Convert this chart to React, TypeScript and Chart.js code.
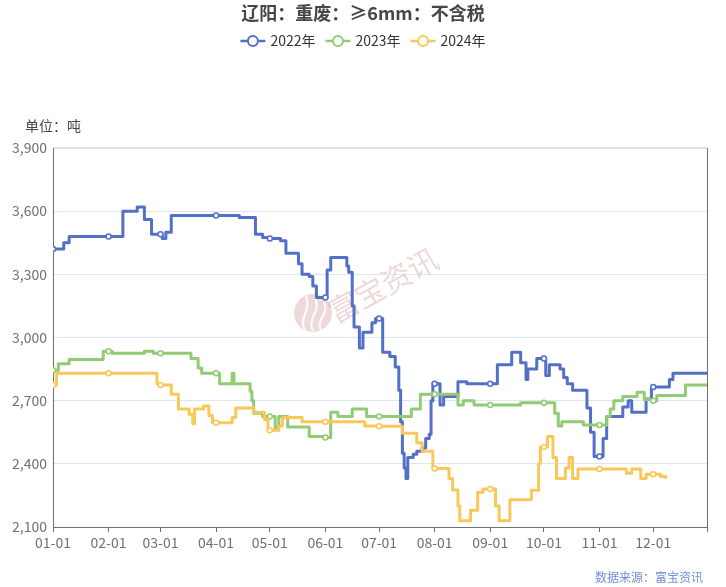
import React, { useEffect, useRef } from 'react';
import { Chart, registerables } from 'chart.js';

Chart.register(...registerables);

const TITLE = '辽阳：重废：≥6mm：不含税';
const UNIT = '单位：吨';
const SOURCE = '数据来源：富宝资讯';
const WATERMARK = '富宝资讯';

const seriesNames = ['2022年', '2023年', '2024年'];
const seriesColors = ['#5470c6', '#91cc75', '#fac858'];

const monthStartDays = [0, 31, 60, 91, 121, 152, 182, 213, 244, 274, 305, 335];
const monthLabels = ['01-01', '02-01', '03-01', '04-01', '05-01', '06-01', '07-01', '08-01', '09-01', '10-01', '11-01', '12-01'];
const yearEndDay = 365;
const yTicks = [2100, 2400, 2700, 3000, 3300, 3600, 3900];

// change points: the value becomes `value` on `day` (day 0 = 01-01)
const days2022 = [0, 6, 9, 31, 39, 47, 51, 55, 60, 61, 63, 66, 91, 104, 113, 117, 121, 127, 130, 137, 139, 143, 145, 147, 152, 153, 155, 164, 165, 167, 168, 171, 173, 178, 180, 182, 184, 188, 191, 193, 194, 195, 196, 197, 198, 201, 203, 206, 208, 210, 211, 212, 213, 216, 218, 226, 231, 244, 248, 256, 261, 264, 265, 270, 274, 275, 277, 283, 285, 287, 290, 298, 300, 302, 305, 307, 309, 318, 321, 323, 331, 334, 335, 344, 346, 365];
const values2022 = [3420, 3450, 3480, 3480, 3600, 3620, 3560, 3490, 3490, 3470, 3500, 3580, 3580, 3570, 3490, 3475, 3470, 3460, 3400, 3350, 3300, 3290, 3245, 3190, 3190, 3320, 3380, 3340, 3310, 3150, 3050, 2950, 3025, 3070, 3090, 3090, 2930, 2910, 2860, 2750, 2600, 2450, 2380, 2330, 2430, 2445, 2460, 2475, 2520, 2540, 2700, 2780, 2780, 2680, 2720, 2790, 2780, 2780, 2870, 2930, 2880, 2800, 2850, 2900, 2900, 2820, 2870, 2850, 2810, 2780, 2750, 2665, 2550, 2435, 2435, 2520, 2625, 2670, 2700, 2645, 2708, 2765, 2765, 2800, 2830, 2830];

const days2023 = [0, 3, 9, 28, 31, 33, 51, 56, 60, 77, 81, 83, 91, 93, 100, 101, 110, 111, 112, 117, 121, 124, 126, 131, 143, 152, 155, 159, 167, 175, 182, 200, 205, 213, 226, 229, 235, 244, 261, 274, 280, 282, 284, 296, 305, 309, 311, 313, 318, 326, 330, 335, 337, 353, 365];
const values2023 = [2845, 2875, 2895, 2935, 2935, 2925, 2935, 2925, 2925, 2900, 2855, 2830, 2830, 2780, 2830, 2780, 2745, 2700, 2640, 2625, 2625, 2570, 2625, 2575, 2530, 2525, 2645, 2625, 2660, 2625, 2625, 2660, 2730, 2730, 2680, 2700, 2680, 2680, 2690, 2690, 2640, 2580, 2600, 2585, 2585, 2625, 2660, 2700, 2720, 2740, 2705, 2700, 2725, 2775, 2775];

const days2024 = [0, 2, 31, 58, 60, 66, 70, 76, 78, 79, 84, 87, 89, 91, 100, 102, 112, 118, 120, 121, 126, 128, 139, 152, 174, 182, 195, 203, 206, 212, 213, 221, 223, 226, 227, 233, 237, 240, 244, 247, 249, 255, 267, 271, 272, 274, 276, 279, 281, 286, 288, 290, 293, 305, 320, 323, 328, 331, 335, 339, 342];
const values2024 = [2775, 2830, 2830, 2780, 2775, 2730, 2660, 2635, 2590, 2660, 2675, 2630, 2595, 2595, 2620, 2665, 2645, 2610, 2560, 2560, 2580, 2620, 2600, 2600, 2580, 2578, 2545, 2500, 2460, 2380, 2378, 2330, 2276, 2200, 2130, 2180, 2265, 2280, 2280, 2200, 2130, 2230, 2275, 2400, 2480, 2480, 2530, 2430, 2330, 2380, 2430, 2330, 2375, 2375, 2355, 2375, 2330, 2350, 2350, 2340, 2335];

const FONT = '"Noto Sans CJK SC", "Noto Sans", sans-serif';

const decorPlugin = {
  id: 'decor',
  beforeDatasetsDraw(chart: any) {
    const ctx = chart.ctx;
    ctx.save();
    // logo
    ctx.fillStyle = 'rgba(214,170,170,0.45)';
    ctx.beginPath();
    ctx.arc(313, 313, 19, 0, Math.PI * 2);
    ctx.fill();
    ctx.strokeStyle = 'rgba(255,255,255,0.9)';
    ctx.lineWidth = 2.2;
    ctx.beginPath();
    ctx.moveTo(305, 330);
    ctx.bezierCurveTo(298, 318, 312, 310, 306, 296);
    ctx.stroke();
    ctx.beginPath();
    ctx.moveTo(313, 331);
    ctx.bezierCurveTo(306, 318, 322, 312, 315, 298);
    ctx.stroke();
    ctx.beginPath();
    ctx.moveTo(321, 330);
    ctx.bezierCurveTo(315, 320, 330, 314, 324, 302);
    ctx.stroke();
    // text
    ctx.translate(383, 285);
    ctx.rotate((-29 * Math.PI) / 180);
    ctx.font = `30px ${FONT}`;
    ctx.fillStyle = 'rgba(214,170,170,0.45)';
    ctx.textAlign = 'center';
    ctx.textBaseline = 'middle';
    ctx.fillText(WATERMARK, 0, 0);
    ctx.restore();
  },
  afterDraw(chart: any) {
    const ctx = chart.ctx;
    const area = chart.chartArea;
    const cx = chart.width / 2;
    ctx.save();
    // title
    ctx.font = `bold 18px ${FONT}`;
    ctx.fillStyle = '#464646';
    ctx.textAlign = 'center';
    ctx.textBaseline = 'middle';
    ctx.fillText(TITLE, cx, 13);
    // legend
    ctx.font = `14px ${FONT}`;
    const iconW = 25;
    const gap = 5;
    const itemGap = 10;
    const widths = seriesNames.map((n) => ctx.measureText(n).width);
    const total = widths.reduce((a, w) => a + iconW + gap + w, 0) + itemGap * (seriesNames.length - 1);
    let x = cx - total / 2;
    const ly = 41;
    seriesNames.forEach((n, i) => {
      ctx.strokeStyle = seriesColors[i];
      ctx.lineWidth = 2.5;
      ctx.beginPath();
      ctx.moveTo(x, ly);
      ctx.lineTo(x + iconW, ly);
      ctx.stroke();
      ctx.beginPath();
      ctx.arc(x + iconW / 2, ly, 5, 0, Math.PI * 2);
      ctx.fillStyle = '#fff';
      ctx.fill();
      ctx.lineWidth = 2;
      ctx.stroke();
      ctx.fillStyle = '#333';
      ctx.textAlign = 'left';
      ctx.fillText(n, x + iconW + gap, ly);
      x += iconW + gap + widths[i] + itemGap;
    });
    // unit
    ctx.font = `14px ${FONT}`;
    ctx.fillStyle = '#464646';
    ctx.textAlign = 'left';
    ctx.fillText(UNIT, 25, 126);
    // source
    ctx.font = `12px ${FONT}`;
    ctx.fillStyle = '#7090d8';
    ctx.textAlign = 'right';
    ctx.fillText(SOURCE, 703, 577);
    // right border
    ctx.strokeStyle = '#6e7079';
    ctx.lineWidth = 1;
    ctx.beginPath();
    ctx.moveTo(Math.round(area.right) + 0.5, area.top);
    ctx.lineTo(Math.round(area.right) + 0.5, area.bottom);
    ctx.stroke();
    ctx.restore();
  },
};

export default function App() {
  const ref = useRef<HTMLCanvasElement>(null);
  useEffect(() => {
    const canvas = ref.current;
    if (!canvas) return;
    const mk = (days: number[], vals: number[]) => days.map((d, i) => ({ x: d, y: vals[i] }));
    const seriesData = [mk(days2022, values2022), mk(days2023, values2023), mk(days2024, values2024)];
    const datasets = seriesNames.map((name, i) => ({
      label: name,
      data: seriesData[i],
      borderColor: seriesColors[i],
      backgroundColor: seriesColors[i],
      borderWidth: 3,
      borderJoinStyle: 'round' as const,
      borderCapStyle: 'round' as const,
      stepped: 'before' as const,
      fill: false,
      pointRadius: (c: any) => (c.raw && monthStartDays.includes(c.raw.x) ? 2.5 : 0),
      pointHoverRadius: 0,
      pointBackgroundColor: '#fff',
      pointBorderColor: seriesColors[i],
      pointBorderWidth: 1.5,
      order: 2 - i,
    }));
    const chart = new Chart(canvas, {
      type: 'line',
      data: { datasets },
      options: {
        animation: false,
        responsive: false,
        devicePixelRatio: 1,
        layout: { padding: { top: 148, right: 19, bottom: 0, left: 0 } },
        plugins: {
          legend: { display: false },
          title: { display: false },
          tooltip: { enabled: false },
        },
        scales: {
          x: {
            type: 'linear',
            min: 0,
            max: yearEndDay,
            afterBuildTicks: (s: any) => {
              s.ticks = [...monthStartDays, yearEndDay].map((v) => ({ value: v }));
            },
            afterFit: (s: any) => {
              s.height = 60;
            },
            ticks: {
              autoSkip: false,
              maxRotation: 0,
              minRotation: 0,
              font: { size: 14, family: FONT },
              color: '#6e7079',
              padding: 2,
              callback: (v: any) => {
                const i = monthStartDays.indexOf(Number(v));
                return i >= 0 ? monthLabels[i] : '';
              },
            },
            grid: { drawOnChartArea: false, drawTicks: true, tickLength: 5, tickColor: '#6e7079' },
            border: { display: true, color: '#6e7079', width: 1 },
          },
          y: {
            min: 2100,
            max: 3900,
            afterBuildTicks: (s: any) => {
              s.ticks = yTicks.map((v) => ({ value: v }));
            },
            afterFit: (s: any) => {
              s.width = 53;
            },
            ticks: {
              font: { size: 14, family: FONT },
              color: '#6e7079',
              padding: 6,
              callback: (v: any) => Number(v).toLocaleString('en-US'),
            },
            grid: {
              drawTicks: false,
              color: (c: any) => (c.tick && c.tick.value === 3900 ? '#e0e0e0' : '#e0e6f1'),
              lineWidth: (c: any) => (c.tick && c.tick.value === 3900 ? 2 : 1),
            },
            border: { display: true, color: '#6e7079', width: 1 },
          },
        },
      },
      plugins: [decorPlugin],
    } as any);
    return () => chart.destroy();
  }, []);
  return (
    <div style={{ position: 'absolute', left: 0, top: 0, width: 726, height: 587, background: '#fff' }}>
      <canvas ref={ref} width={726} height={587} style={{ display: 'block', width: 726, height: 587 }} />
    </div>
  );
}
